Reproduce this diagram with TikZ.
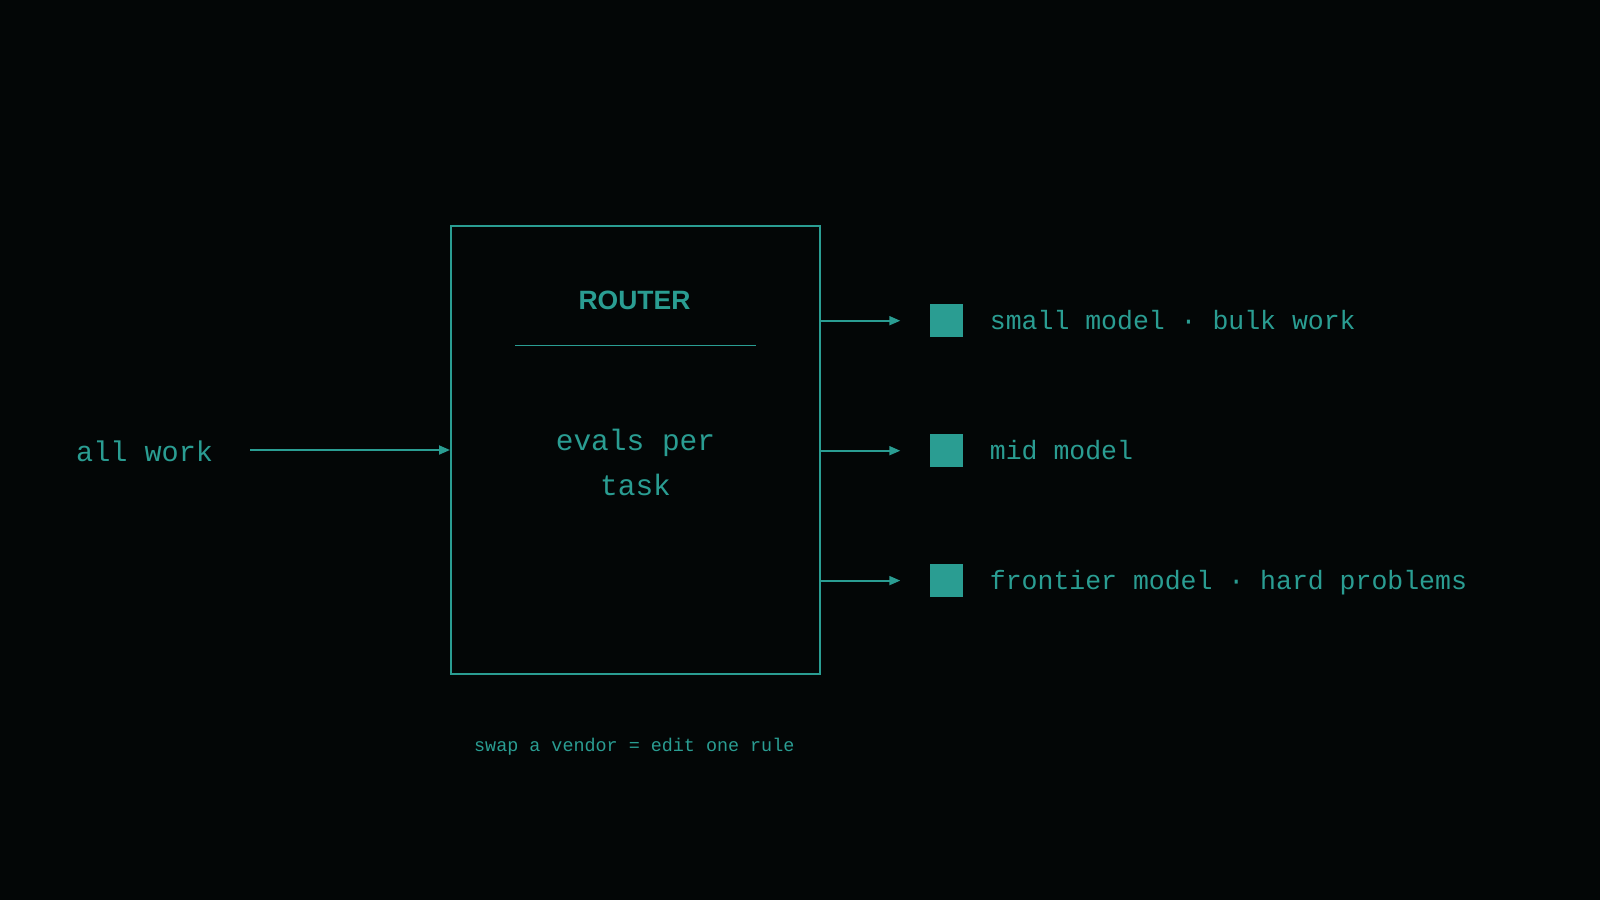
\documentclass[tikz,border=0pt]{standalone}
\usepackage{fontspec}
\setmonofont{Liberation Mono}
\setsansfont{Liberation Sans}
\usetikzlibrary{positioning,arrows.meta}

\definecolor{routerteal}{RGB}{42,157,146}
\definecolor{bgdark}{RGB}{3,6,6}

\begin{document}
\begin{tikzpicture}[
  x=1pt, y=-1pt,
  router/.style={rectangle, draw=routerteal, line width=2pt, minimum width=369pt,
                 minimum height=448pt, inner sep=0pt},
  tier/.style={rectangle, fill=routerteal, minimum size=33pt, inner sep=0pt},
  tierlabel/.style={anchor=base west, inner sep=0pt, font=\ttfamily\fontsize{26.5}{30}\selectfont},
  bigmono/.style={inner sep=0pt, font=\ttfamily\fontsize{29.5}{34}\selectfont},
  flow/.style={-{Triangle[length=11pt,width=9pt]}, draw=routerteal, line width=1.8pt},
  every node/.style={text=routerteal}
]

% ====== TLO ======
\fill[bgdark] (0,0) rectangle (1600,900);

% ====== ROUTER ======
\node[router] (router) at (635.5,450) {};
\node[anchor=base, inner sep=0pt, font=\sffamily\bfseries\fontsize{26.5}{30}\selectfont] (title) at (634.5,309.5) {ROUTER};
\draw[routerteal, line width=1pt] (515,345) -- (756,345);
\node[bigmono, anchor=base] (evals) at (635.5,450) {evals per};
\node[bigmono, anchor=base] (task) at ([yshift=-45pt]evals.base) {task};

% ====== WEJSCIE ======
\node[bigmono, anchor=base west, font=\ttfamily\fontsize{28.5}{34}\selectfont] (allwork) at (76,461.7) {all work};
\draw[flow] ([xshift=37pt]allwork.east |- router.west) -- (router.west);

% ====== MODELE ======
\node[tier] (small) at (946,320.7) {};
\node[tier] (mid) at (946,450.7) {};
\node[tier] (frontier) at (946,580.6) {};

\node[tierlabel] (smalltxt) at ([xshift=27pt, yshift=-8.6pt]small.east) {small model · bulk work};
\node[tierlabel] (midtxt) at ([xshift=27pt, yshift=-8.6pt]mid.east) {mid model};
\node[tierlabel] (frontiertxt) at ([xshift=27pt, yshift=-8.6pt]frontier.east) {frontier model · hard problems};

\draw[flow] (router.east |- small) -- ([xshift=-29pt]small.west);
\draw[flow] (router.east |- mid) -- ([xshift=-29pt]mid.west);
\draw[flow] (router.east |- frontier) -- ([xshift=-29pt]frontier.west);

% ====== STOPKA ======
\node[anchor=base, inner sep=0pt, font=\ttfamily\fontsize{18.4}{22}\selectfont] (footer) at (634.3,751.7) {swap a vendor = edit one rule};

\end{tikzpicture}
\end{document}
